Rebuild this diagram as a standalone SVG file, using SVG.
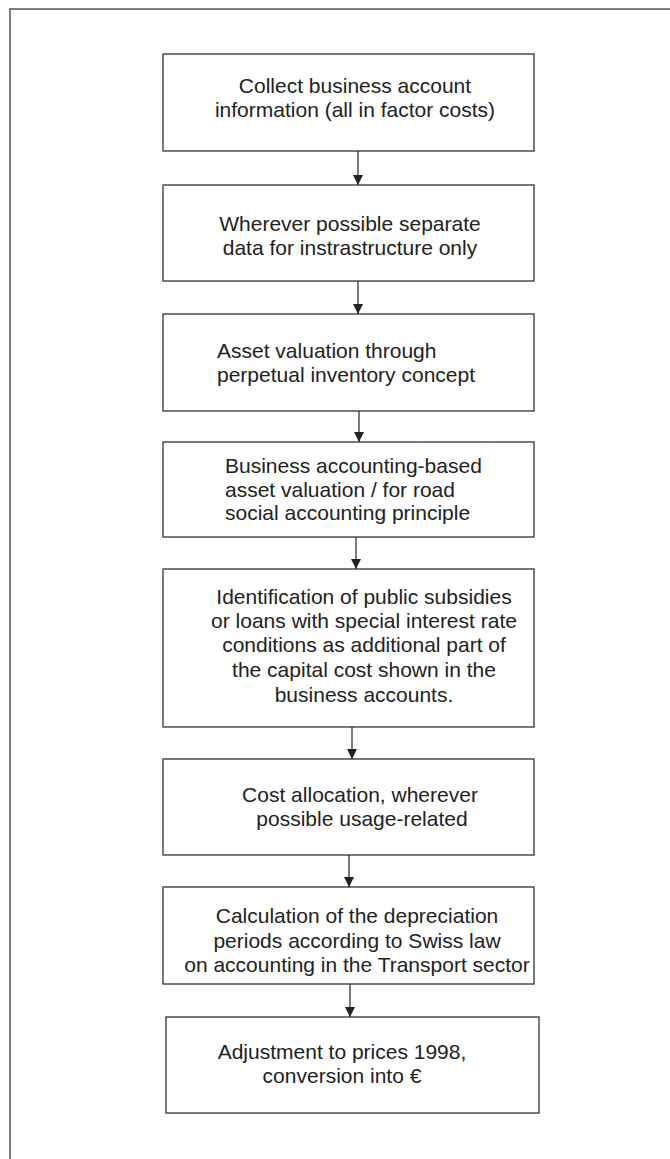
<svg xmlns="http://www.w3.org/2000/svg" width="670" height="1159" viewBox="0 0 670 1159">
<defs>
<style>
.box{fill:#fff;stroke:#333;stroke-width:1.3}
.t{font-family:"Liberation Sans",Arial,sans-serif;font-size:21px;fill:#222}
.c{text-anchor:middle}
.conn line{stroke:#222;stroke-width:1.2}
</style>
<marker id="ah" markerWidth="10" markerHeight="10" refX="10" refY="5" orient="auto" markerUnits="userSpaceOnUse">
<path d="M0,0 L10,5 L0,10 Z" fill="#222"/>
</marker>
</defs>
<rect width="670" height="1159" fill="#fff"/>
<path d="M10,1159 V9 H670" fill="none" stroke="#555" stroke-width="1.5"/>
<g id="n1"><rect class="box" x="163" y="54" width="371" height="97"/>
<text class="t c" x="355" y="93">Collect business account</text>
<text class="t c" x="355" y="117">information (all in factor costs)</text></g>
<g id="n2"><rect class="box" x="163" y="185" width="371" height="96"/>
<text class="t c" x="350" y="231">Wherever possible separate</text>
<text class="t c" x="350" y="255">data for instrastructure only</text></g>
<g id="n3"><rect class="box" x="163" y="314" width="371" height="97"/>
<text class="t" x="217" y="358">Asset valuation through</text>
<text class="t" x="217" y="382">perpetual inventory concept</text></g>
<g id="n4"><rect class="box" x="163" y="442" width="371" height="95"/>
<text class="t" x="225" y="473">Business accounting-based</text>
<text class="t" x="225" y="497">asset valuation / for road</text>
<text class="t" x="225" y="520">social accounting principle</text></g>
<g id="n5"><rect class="box" x="163" y="569" width="371" height="158"/>
<text class="t c" x="364" y="604">Identification of public subsidies</text>
<text class="t c" x="364" y="628">or loans with special interest rate</text>
<text class="t c" x="364" y="652">conditions as additional part of</text>
<text class="t c" x="364" y="677">the capital cost shown in the</text>
<text class="t c" x="364" y="702">business accounts.</text></g>
<g id="n6"><rect class="box" x="163" y="759" width="371" height="96"/>
<text class="t c" x="360" y="802">Cost allocation, wherever</text>
<text class="t c" x="362" y="826">possible usage-related</text></g>
<g id="n7"><rect class="box" x="163" y="887" width="371" height="97"/>
<text class="t c" x="357" y="923">Calculation of the depreciation</text>
<text class="t c" x="357" y="948">periods according to Swiss law</text>
<text class="t c" x="357" y="972">on accounting in the Transport sector</text></g>
<g id="n8"><rect class="box" x="166" y="1017" width="373" height="96"/>
<text class="t c" x="342" y="1059">Adjustment to prices 1998,</text>
<text class="t c" x="342" y="1083">conversion into €</text></g>
<g class="conn" id="connectors">
<line x1="358" y1="151" x2="358" y2="185" marker-end="url(#ah)"/>
<line x1="358" y1="281" x2="358" y2="314" marker-end="url(#ah)"/>
<line x1="359" y1="411" x2="359" y2="442" marker-end="url(#ah)"/>
<line x1="356" y1="537" x2="356" y2="569" marker-end="url(#ah)"/>
<line x1="352" y1="727" x2="352" y2="759" marker-end="url(#ah)"/>
<line x1="349" y1="855" x2="349" y2="887" marker-end="url(#ah)"/>
<line x1="350" y1="984" x2="350" y2="1017" marker-end="url(#ah)"/>
</g>
</svg>
